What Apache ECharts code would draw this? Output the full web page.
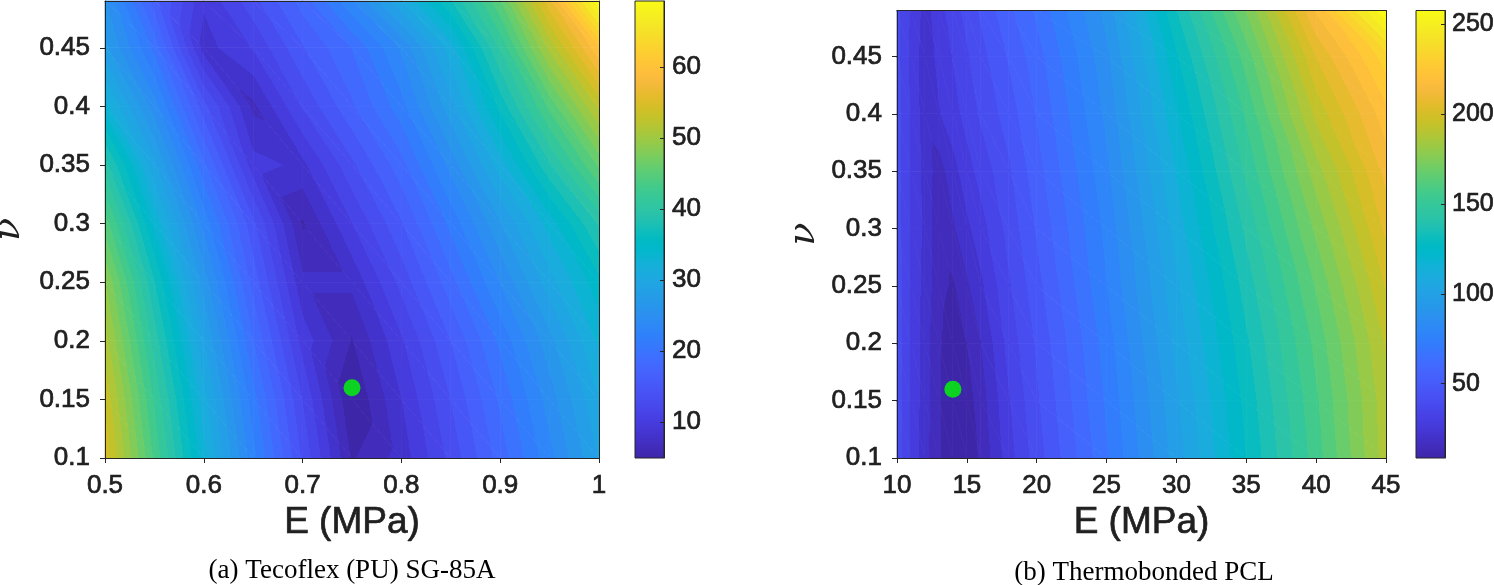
<!DOCTYPE html>
<html>
<head>
<meta charset="utf-8">
<script src="https://cdn.jsdelivr.net/npm/echarts@6/dist/echarts.min.js"></script>
<style>
html, body { margin: 0; padding: 0; background: #fff; }
#chart { width: 1494px; height: 585px; }
</style>
</head>
<body>
<div id="chart"></div>
<script>
// 左图 (a) Tecoflex (PU) SG-85A：误差随 E、ν 的分布
const eLeft = [0.5, 0.55, 0.6, 0.65, 0.7, 0.75, 0.8, 0.85, 0.9, 0.95, 1.0];
const nuLeft = [0.1, 0.15, 0.2, 0.25, 0.3, 0.35, 0.4, 0.45, 0.49];
const zLeft = [
  [54.3, 43.2, 32.8, 23.2, 14.3, 6.3, 8.8, 13.5, 18.5, 23.7, 29.2],
  [52.9, 41.7, 31.3, 21.7, 12.9, 4.9, 9.7, 14.6, 19.7, 25.0, 30.6],
  [50.8, 39.6, 29.2, 19.5, 10.7, 6.4, 11.1, 16.2, 21.4, 26.9, 32.7],
  [48.5, 37.2, 26.8, 17.2, 8.5, 8.5, 13.5, 18.8, 24.3, 30.0, 35.0],
  [44.5, 33.5, 23.7, 15.0, 6.3, 11.3, 16.0, 21.5, 27.3, 33.0, 39.0],
  [39.5, 29.5, 19.8, 10.4, 9.3, 14.2, 18.8, 24.8, 31.5, 38.5, 45.5],
  [33.0, 25.0, 15.2, 7.7, 13.1, 17.5, 22.0, 28.5, 36.0, 44.0, 52.0],
  [28.0, 20.5, 9.0, 11.5, 16.0, 19.5, 24.5, 31.5, 40.5, 50.5, 59.5],
  [26.0, 17.0, 10.0, 14.0, 18.5, 24.0, 30.5, 37.0, 45.0, 56.0, 69.3]
];
const cLimLeft = [4.9, 69.3];
const cTicksLeft = [10, 20, 30, 40, 50, 60];
const bestLeft = [0.75, 0.16];

// 右图 (b) Thermobonded PCL
const eRight = [10, 11, 12, 13, 14, 15, 16, 18, 20, 25, 30, 35, 40, 45];
const nuRight = [0.1, 0.15, 0.2, 0.25, 0.3, 0.35, 0.4, 0.45, 0.49];
const zRight = [
  [44, 33, 23, 16, 10, 11, 16, 31, 43, 70, 99, 127, 155, 186],
  [44, 33, 24, 16, 8.7, 12, 18, 33, 45, 72, 101, 129, 157, 187],
  [44, 33, 24, 16, 11, 15, 21, 36, 47, 74, 104, 132, 160, 190],
  [44, 33, 25, 17, 14, 20, 26, 39, 50, 77, 107, 136, 165, 196],
  [43, 33, 26, 17, 20, 26, 31, 42, 53, 79, 111, 141, 172, 203],
  [43, 33, 25, 18, 25, 31, 36, 45, 56, 82, 115, 147, 180, 210],
  [43, 33, 24, 27, 31, 36, 41, 49, 59, 85, 120, 153, 191, 218],
  [42, 32, 24, 29, 34, 39, 44, 53, 62, 88, 126, 161, 202, 230],
  [42, 33, 25, 31, 37, 42, 47, 57, 66, 92, 133, 171, 215, 257.6]
];
const cLimRight = [8.7, 257.6];
const cTicksRight = [50, 100, 150, 200, 250];
const bestRight = [14, 0.16];

const nuTicks = [0.1, 0.15, 0.2, 0.25, 0.3, 0.35, 0.4, 0.45];

// parula 色带
const parulaHex = ['#3e26a8','#402ab4','#422ec0','#4332cb','#4537d5','#463cde','#4741e5','#4747eb',
  '#484df0','#4852f4','#4758f8','#465efb','#4563fd','#4269fe','#3e6fff','#3875fe',
  '#327cfc','#2f81fa','#2e87f7','#2d8cf3','#2b91ef','#2796eb','#259be8','#23a0e5',
  '#20a5e3','#1ca9df','#18addb','#12b1d6','#08b5d0','#01b8ca','#02bac3','#0bbdbd',
  '#19bfb6','#24c1ae','#2cc4a7','#31c69f','#37c897','#3fca8e','#4acb84','#57cc7a',
  '#64cd6f','#72cd64','#81cc59','#8fcb4e','#9dc943','#abc739','#b9c431','#c5c22a',
  '#d1bf27','#dcbd29','#e6bb2d','#f0ba36','#f8ba3d','#febe3c','#fec338','#fec934',
  '#fccf30','#fad62d','#f7dc2a','#f5e327','#f5e924','#f6ef20','#f7f51b','#f9fb15'];
const parulaRgb = parulaHex.map(h => [1, 3, 5].map(k => parseInt(h.slice(k, k + 2), 16)));

function parula(t) {
  t = Math.min(1, Math.max(0, t));
  const f = t * (parulaRgb.length - 1);
  const i = Math.min(Math.floor(f), parulaRgb.length - 2);
  const u = f - i;
  const a = parulaRgb[i], b = parulaRgb[i + 1];
  return 'rgb(' + [0, 1, 2].map(k => Math.round(a[k] + (b[k] - a[k]) * u)).join(',') + ')';
}

// 等值线分层（contourf 的色阶）
function makeBands(lim, n) {
  const step = (lim[1] - lim[0]) / n;
  const idx = v => Math.max(0, Math.min(n - 1, Math.floor((v - lim[0]) / step)));
  const col = k => parula(k / (n - 1));
  return {
    color: v => col(idx(v)),
    stops(lo, hi) {
      const res = [{ offset: 0, color: col(idx(lo)) }];
      for (let m = idx(lo) + 1; m < n; m++) {
        const L = lim[0] + m * step;
        if (L >= hi) break;
        const o = (L - lo) / (hi - lo);
        res.push({ offset: o, color: col(m - 1) }, { offset: o, color: col(m) });
      }
      res.push({ offset: 1, color: col(idx(hi)) });
      return res;
    }
  };
}

// 三角形内线性插值 -> 线性渐变
function tri(pts, vals, bands) {
  const [x0, y0] = pts[0], [x1, y1] = pts[1], [x2, y2] = pts[2];
  const [v0, v1, v2] = vals;
  const dx1 = x1 - x0, dy1 = y1 - y0, dv1 = v1 - v0;
  const dx2 = x2 - x0, dy2 = y2 - y0, dv2 = v2 - v0;
  const det = dx1 * dy2 - dx2 * dy1;
  const a = (dv1 * dy2 - dv2 * dy1) / det;
  const b = (dx1 * dv2 - dx2 * dv1) / det;
  const g2 = a * a + b * b;
  const lo = Math.min(v0, v1, v2), hi = Math.max(v0, v1, v2);
  let fill;
  if (hi - lo < 1e-9 || g2 < 1e-14) {
    fill = bands.color(lo);
  } else {
    fill = new echarts.graphic.LinearGradient(
      x0 + (lo - v0) * a / g2, y0 + (lo - v0) * b / g2,
      x0 + (hi - v0) * a / g2, y0 + (hi - v0) * b / g2,
      bands.stops(lo, hi), true);
  }
  return { type: 'polygon', shape: { points: pts }, style: { fill: fill, stroke: fill, lineWidth: 0.8 } };
}

function contourSeries(xs, ys, zs, lim, xi, yi) {
  const bands = makeBands(lim, 40);
  const cells = [];
  for (let j = 0; j < ys.length - 1; j++) {
    for (let i = 0; i < xs.length - 1; i++) cells.push([xs[i], ys[j], i, j]);
  }
  return {
    type: 'custom', xAxisIndex: xi, yAxisIndex: yi, z: 1, silent: true,
    encode: { x: 0, y: 1 },
    data: cells,
    renderItem(params, api) {
      const i = api.value(2), j = api.value(3);
      const p = (a, b) => api.coord([xs[i + a], ys[j + b]]);
      const v = (a, b) => zs[j + b][i + a];
      return {
        type: 'group',
        children: [
          tri([p(0, 0), p(1, 0), p(0, 1)], [v(0, 0), v(1, 0), v(0, 1)], bands),
          tri([p(1, 0), p(1, 1), p(0, 1)], [v(1, 0), v(1, 1), v(0, 1)], bands)
        ]
      };
    }
  };
}

function colorbarSeries(lim, xi, yi) {
  const stops = parulaHex.map((c, k) => ({ offset: k / (parulaHex.length - 1), color: c }));
  return {
    type: 'custom', xAxisIndex: xi, yAxisIndex: yi, silent: true,
    encode: { x: 0, y: 1 },
    data: [[0, lim[0]]],
    renderItem(params, api) {
      const a = api.coord([0, lim[1]]), b = api.coord([1, lim[0]]);
      return {
        type: 'rect',
        shape: { x: a[0], y: a[1], width: b[0] - a[0], height: b[1] - a[1] },
        style: { fill: new echarts.graphic.LinearGradient(0, 1, 0, 0, stops), stroke: '#262626', lineWidth: 1 }
      };
    }
  };
}

const ink = '#202020';
const sans = 'Liberation Sans';
const lineSt = { show: true, onZero: false, lineStyle: { color: '#262626', width: 1 } };
// 字体稍加粗，接近原图
const heavy = { textBorderColor: ink, textBorderWidth: 0.7 };

function mainX(grid, min, max, interval) {
  return {
    gridIndex: grid, type: 'value', min: min, max: max, interval: interval, z: 10,
    axisLine: lineSt,
    axisTick: { show: true, inside: false, length: 5, lineStyle: { color: '#262626' } },
    axisLabel: Object.assign({ fontSize: 26, color: ink, fontFamily: sans, margin: 15 }, heavy),
    splitLine: { show: false },
    name: 'E (MPa)', nameLocation: 'middle', nameGap: 45,
    nameTextStyle: Object.assign({ fontSize: 37, color: ink, fontFamily: sans }, heavy)
  };
}
function mainY(grid, max, gap) {
  return {
    gridIndex: grid, type: 'value', min: 0.1, max: max, z: 10,
    axisLine: lineSt,
    axisTick: { show: true, inside: false, length: 5, customValues: nuTicks, lineStyle: { color: '#262626' } },
    axisLabel: Object.assign({ fontSize: 26, color: ink, fontFamily: sans, margin: 15, customValues: nuTicks }, heavy),
    splitLine: { show: false },
    name: 'ν', nameLocation: 'middle', nameGap: gap, nameRotate: 90,
    nameTextStyle: { fontSize: 38, color: ink, fontFamily: 'DejaVu Serif', fontStyle: 'italic' }
  };
}
function boxX(grid, min, max) {
  return { gridIndex: grid, type: 'value', position: 'top', min: min, max: max, z: 10,
    axisLine: lineSt, axisTick: { show: false }, axisLabel: { show: false }, splitLine: { show: false } };
}
function boxY(grid, max) {
  return { gridIndex: grid, type: 'value', position: 'right', min: 0.1, max: max, z: 10,
    axisLine: lineSt, axisTick: { show: false }, axisLabel: { show: false }, splitLine: { show: false } };
}
function cbarX(grid) {
  return { gridIndex: grid, type: 'value', min: 0, max: 1, show: false };
}
function cbarY(grid, lim, ticks, size, margin) {
  return {
    gridIndex: grid, type: 'value', position: 'right', min: lim[0], max: lim[1], z: 10,
    axisLine: lineSt,
    axisTick: { show: true, inside: true, length: 4, customValues: ticks, lineStyle: { color: '#262626' } },
    axisLabel: Object.assign({ fontSize: size, color: ink, fontFamily: sans, margin: margin, customValues: ticks }, heavy),
    splitLine: { show: false }
  };
}

let myChart = echarts.init(document.getElementById('chart'), null, { renderer: 'canvas' });

let option = {
  animation: false,
  backgroundColor: '#ffffff',
  grid: [
    { left: 105, top: 1, width: 494, height: 457, outerBoundsMode: 'none', containLabel: false },
    { left: 635, top: 1, width: 29, height: 457, outerBoundsMode: 'none', containLabel: false },
    { left: 897, top: 10.5, width: 489, height: 447.5, outerBoundsMode: 'none', containLabel: false },
    { left: 1416, top: 10.5, width: 29, height: 447.5, outerBoundsMode: 'none', containLabel: false }
  ],
  xAxis: [
    mainX(0, 0.5, 1, 0.1), boxX(0, 0.5, 1), cbarX(1),
    mainX(2, 10, 45, 5), boxX(2, 10, 45), cbarX(3)
  ],
  yAxis: [
    mainY(0, 0.49, 77), boxY(0, 0.49), cbarY(1, cLimLeft, cTicksLeft, 26, 8),
    mainY(2, 0.49, 74), boxY(2, 0.49), cbarY(3, cLimRight, cTicksRight, 25, 7)
  ],
  series: [
    contourSeries(eLeft, nuLeft, zLeft, cLimLeft, 0, 0),
    { type: 'scatter', xAxisIndex: 0, yAxisIndex: 0, z: 3, symbolSize: 17,
      itemStyle: { color: '#00ff00' }, data: [bestLeft] },
    colorbarSeries(cLimLeft, 2, 2),
    contourSeries(eRight, nuRight, zRight, cLimRight, 3, 3),
    { type: 'scatter', xAxisIndex: 3, yAxisIndex: 3, z: 3, symbolSize: 17,
      itemStyle: { color: '#00ff00' }, data: [bestRight] },
    colorbarSeries(cLimRight, 5, 5)
  ],
  graphic: [
    { type: 'text', x: 352, y: 571, silent: true,
      style: { text: '(a) Tecoflex (PU) SG-85A', fill: '#000', fontSize: 27,
        fontFamily: 'Liberation Serif', align: 'center', verticalAlign: 'middle' } },
    { type: 'text', x: 1144, y: 573, silent: true,
      style: { text: '(b) Thermobonded PCL', fill: '#000', fontSize: 27,
        fontFamily: 'Liberation Serif', align: 'center', verticalAlign: 'middle' } }
  ]
};

myChart.setOption(option);
window.addEventListener('resize', function () {
  myChart.resize();
});
</script>
</body>
</html>
